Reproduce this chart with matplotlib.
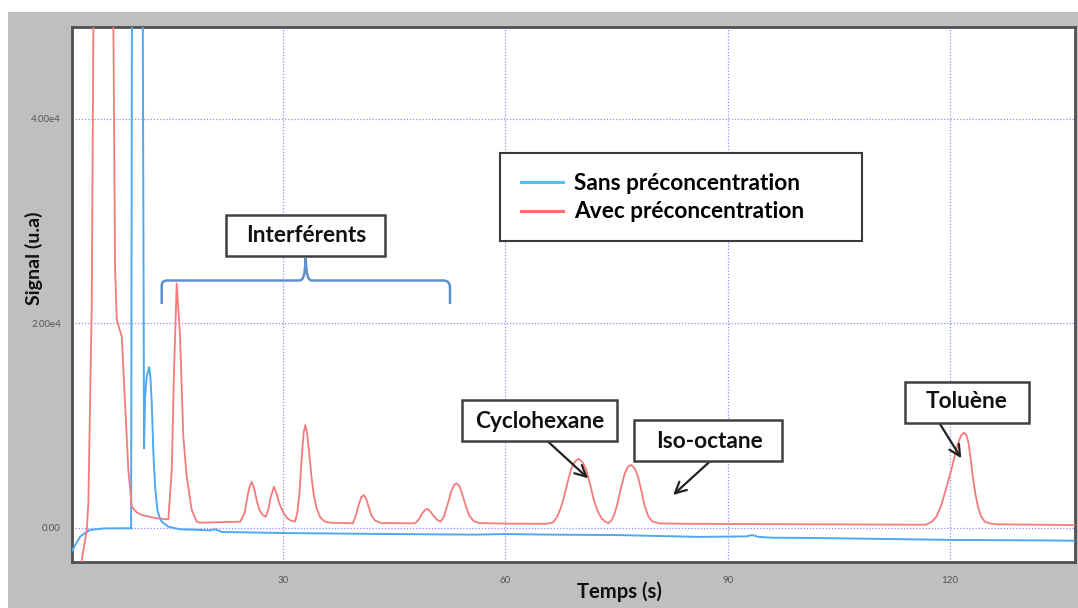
import matplotlib
matplotlib.use('Agg')
import matplotlib.pyplot as plt
from matplotlib.patches import Rectangle, PathPatch
from matplotlib.path import Path
from matplotlib.lines import Line2D

plt.rcParams['font.family'] = ['Lato', 'DejaVu Sans']

# ---------------- data ----------------
red_t = [2.55, 2.79, 3.01, 3.47, 3.68, 3.91, 4.14, 4.36, 5.7, 7.06, 7.29, 7.52, 8.19, 8.64,
         9.08, 9.54, 10.2, 10.89, 12.9, 14.48, 14.94, 15.25, 15.61, 16.06, 16.5, 16.96, 17.64,
         18.31, 18.76, 24.2, 24.8, 25.1, 25.4, 25.74, 26.05, 26.4, 26.8, 27.2, 27.63, 27.95,
         28.3, 28.74, 29.1, 29.5, 30.0, 30.5, 31.0, 31.6, 31.9, 32.2, 32.5, 32.75, 32.97, 33.2,
         33.5, 33.8, 34.1, 34.5, 35.0, 35.6, 36.5, 39.4, 39.8, 40.2, 40.55, 40.85, 41.15, 41.5,
         41.9, 42.4, 43.2, 47.8, 48.3, 48.8, 49.2, 49.49, 49.85, 50.3, 50.8, 51.24, 51.7, 52.2,
         52.7, 53.1, 53.44, 53.8, 54.2, 54.6, 55.1, 55.7, 56.5, 60.0, 65.5, 66.4, 67.0, 67.5,
         67.9, 68.4, 68.9, 69.4, 69.9, 70.4, 70.9, 71.4, 71.9, 72.4, 72.9, 73.4, 73.9, 74.3,
         74.7, 75.1, 75.6, 76.1, 76.55, 77.0, 77.45, 77.9, 78.35, 78.8, 79.3, 79.8, 80.8, 85.0,
         95.0, 105.0, 115.0, 116.8, 117.6, 118.2, 118.8, 119.3, 119.8, 120.2, 120.65, 121.1,
         121.5, 121.9, 122.2, 122.5, 122.8, 123.1, 123.45, 123.8, 124.2, 124.7, 125.5, 126.3,
         137.0]
red_v = [-5000, -3160, -2180, -225, 2420, 12200, 22000, 49000, 250000, 49000, 25200, 20300,
         18700, 12200, 5650, 2050, 1500, 1240, 920, 820, 5650, 15430, 23900, 18690, 8900, 4990,
         1730, 590, 490, 590, 1500, 2800, 3900, 4500, 3900, 2700, 1700, 1250, 1080, 1700, 3000,
         4010, 3300, 2300, 1500, 950, 700, 600, 1500, 3500, 7000, 9300, 10050, 9300, 7300, 5000,
         3300, 1900, 1000, 600, 480, 430, 1200, 2300, 3000, 3200, 2900, 2100, 1200, 700, 450,
         430, 800, 1450, 1780, 1830, 1600, 1150, 750, 590, 1100, 2300, 3600, 4200, 4340, 4050,
         3200, 2200, 1200, 650, 450, 400, 380, 500, 1100, 2000, 3000, 4500, 5800, 6500, 6750,
         6400, 5700, 4300, 2800, 1700, 1000, 620, 450, 700, 1300, 2300, 3900, 5300, 6000, 6130,
         5800, 5000, 3600, 2100, 1100, 620, 420, 380, 350, 330, 300, 290, 600, 1100, 2100, 3350,
         4600, 5650, 7000, 8250, 9000, 9300, 9100, 8400, 6800, 5000, 3300, 2050, 1150, 600, 400,
         330, 260]

blue_t = [1.4, 1.66, 2.56, 3.24, 3.91, 5.71, 7.5, 9.45, 9.56, 10.3, 11.03, 11.2, 11.34, 11.56,
          11.88, 12.05, 12.24, 12.46, 12.69, 13.0, 13.3, 13.59, 14.48, 16.06, 18.0, 20.1, 20.8,
          21.7, 30.0, 41.0, 56.0, 60.0, 66.0, 75.0, 86.0, 92.5, 93.3, 94.2, 96.0, 101.0, 111.0,
          121.0, 134.0, 137.0]
blue_v = [-2400, -2015, -880, -520, -225, -80, -60, -60, 49000, 300000, 49000, 7770, 12800,
          14780, 15700, 14800, 12170, 7280, 4010, 1730, 1000, 590, 100, -160, -200, -260, -150,
          -420, -520, -600, -680, -620, -680, -720, -900, -850, -720, -900, -980, -1000, -1100,
          -1200, -1250, -1280]

series_labels = ['Sans préconcentration', 'Avec préconcentration']
x_ticks = [30, 60, 90, 120]
x_tick_labels = ['30', '60', '90', '120']
y_ticks = [0, 20000, 40000]
y_tick_labels = ['0.00', '2.00e4', '4.00e4']
peak_names = ['Cyclohexane', 'Iso-octane', 'Toluène']
peak_tips = [(71.16, 4830), (82.63, 3200), (121.55, 6790)]

# ---------------- figure ----------------
W, H = 1078, 608
fig = plt.figure(figsize=(W / 100, H / 100), dpi=100, facecolor='white')


def fx(x):
    return x / W


def fy(y):
    return 1 - y / H


fig.patches.append(Rectangle((fx(8), 0), 1 - fx(8), fy(12), transform=fig.transFigure,
                             fc='#bfbfbf', ec='none', zorder=-10))

ax = fig.add_axes([fx(72), fy(562), (1075 - 72) / W, (562 - 27) / H])
ax.set_facecolor('white')

blue_c = '#4fa8f0'
red_c = '#f47b7b'
ax.plot(blue_t, blue_v, color=blue_c, lw=1.4, zorder=3)
ax.plot(red_t, red_v, color=red_c, lw=1.3, zorder=4)

ax.set_xlim(1.47, 136.9)
ax.set_ylim(-3356, 48990)
ax.set_xticks(x_ticks)
ax.set_xticklabels(x_tick_labels)
ax.set_yticks(y_ticks)
ax.set_yticklabels(y_tick_labels)
ax.tick_params(axis='both', length=0, labelsize=7, colors='#555555')
ax.tick_params(axis='y', pad=8)
ax.tick_params(axis='x', pad=10)
ax.grid(True, color='#8c8cff', linestyle=(0, (1, 1.5)), lw=0.9, zorder=1)
for s in ax.spines.values():
    s.set_color('#505050')
    s.set_linewidth(2)

fig.text(fx(34), fy(258), 'Signal (u.a)', rotation=90, ha='center', va='center',
         fontsize=14, fontweight='bold', color='#111111')
fig.text(fx(619), fy(592), 'Temps (s)', ha='center', va='center',
         fontsize=14.6, fontweight='bold', color='#111111')

# legend
fig.patches.append(Rectangle((fx(500), fy(241)), (862 - 500) / W, (241 - 153) / H,
                             transform=fig.transFigure, fc='white', ec='#3a3a3a', lw=1.5,
                             zorder=5))
handles = [Line2D([], [], color='#4fc1f5', lw=2.2), Line2D([], [], color='#ff6e6e', lw=2.2)]
leg = fig.legend(handles, series_labels, loc='upper left',
                 bbox_to_anchor=(fx(521), fy(173)), frameon=False, borderpad=0,
                 borderaxespad=0, handlelength=1.85, handletextpad=0.5, labelspacing=0.33,
                 prop={'weight': 'bold', 'size': 16.3})
leg.set_zorder(6)


def box(x0, y0, x1, y1):
    fig.patches.append(Rectangle((fx(x0), fy(y1)), (x1 - x0) / W, (y1 - y0) / H,
                                 transform=fig.transFigure, fc='white', ec='#404040',
                                 lw=1.8, zorder=5))


box(226, 215, 385, 256)
fig.text(fx(306), fy(236), 'Interférents', ha='center', va='center', fontsize=16.3,
         fontweight='bold', color='#111111', zorder=6)

# brace
pts = [(161.7, 304), (161.7, 287), (161.7, 282), (163, 280.5), (168, 280.5), (299, 280.5),
       (303, 280.5), (305, 277), (305.7, 258), (306.4, 277), (308.4, 280.5), (312.4, 280.5),
       (443, 280.5), (448, 280.5), (450, 283), (450, 288), (450, 304)]
codes = [Path.MOVETO, Path.LINETO, Path.CURVE4, Path.CURVE4, Path.CURVE4, Path.LINETO,
         Path.CURVE4, Path.CURVE4, Path.CURVE4, Path.CURVE4, Path.CURVE4, Path.CURVE4,
         Path.LINETO, Path.CURVE4, Path.CURVE4, Path.CURVE4, Path.LINETO]
path = Path([(fx(a), fy(b)) for a, b in pts], codes)
fig.patches.append(PathPatch(path, transform=fig.transFigure, fc='none', ec='#5f90cc',
                             lw=1.8, zorder=5))

boxes = [(462, 400, 617, 441), (634, 420, 782, 461), (905, 382, 1029, 423)]
centers = [(540, 421), (709, 441), (967, 402)]
starts = [(543, 437), (717, 455), (935, 416)]
for name, (x0, y0, x1, y1), (cx, cy), (sx, sy), tip in zip(peak_names, boxes, centers,
                                                            starts, peak_tips):
    box(x0, y0, x1, y1)
    fig.text(fx(cx), fy(cy), name, ha='center', va='center', fontsize=16.3,
             fontweight='bold', color='#111111', zorder=6)
    ax.annotate('', xy=tip, xycoords='data', xytext=(fx(sx), fy(sy)),
                textcoords='figure fraction',
                arrowprops=dict(arrowstyle='->', lw=1.6, color='#222222',
                                mutation_scale=20, shrinkA=0, shrinkB=0),
                zorder=7, annotation_clip=False)

fig.savefig('out.png', dpi=100, facecolor=fig.get_facecolor())
